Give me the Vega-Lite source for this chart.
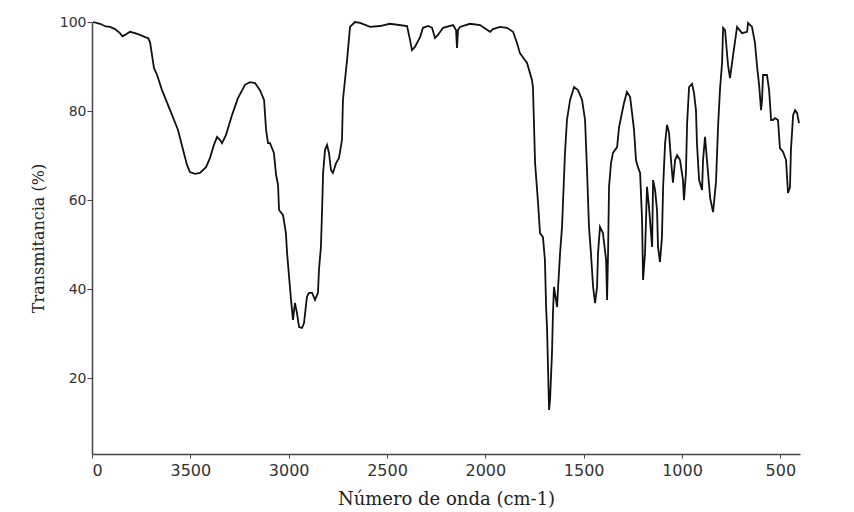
{
  "$schema": "https://vega.github.io/schema/vega-lite/v6.json",
  "width": 708,
  "height": 432,
  "autosize": {"type": "none"},
  "padding": {"left": 92, "top": 22, "right": 54, "bottom": 58},
  "background": "white",
  "config": {"view": {"stroke": null}},
  "data": {"values": [
    {"wn": 3995, "t": 100.0}, {"wn": 3959, "t": 99.6}, {"wn": 3930, "t": 99.0}, {"wn": 3908, "t": 98.9}, {"wn": 3883, "t": 98.4},
    {"wn": 3858, "t": 97.5}, {"wn": 3845, "t": 96.8}, {"wn": 3832, "t": 97.1}, {"wn": 3807, "t": 97.8}, {"wn": 3781, "t": 97.5},
    {"wn": 3756, "t": 97.1}, {"wn": 3730, "t": 96.6}, {"wn": 3715, "t": 96.4}, {"wn": 3705, "t": 95.5},
    {"wn": 3695, "t": 92.6}, {"wn": 3685, "t": 89.7}, {"wn": 3669, "t": 88.1}, {"wn": 3644, "t": 84.7},
    {"wn": 3603, "t": 80.2}, {"wn": 3563, "t": 75.8}, {"wn": 3537, "t": 71.3}, {"wn": 3517, "t": 67.9},
    {"wn": 3502, "t": 66.3}, {"wn": 3476, "t": 65.9}, {"wn": 3451, "t": 66.1}, {"wn": 3420, "t": 67.4},
    {"wn": 3400, "t": 69.5}, {"wn": 3380, "t": 72.4}, {"wn": 3364, "t": 74.2}, {"wn": 3349, "t": 73.5},
    {"wn": 3339, "t": 72.8}, {"wn": 3319, "t": 74.6}, {"wn": 3288, "t": 79.1}, {"wn": 3258, "t": 82.9},
    {"wn": 3222, "t": 85.9}, {"wn": 3197, "t": 86.5}, {"wn": 3171, "t": 86.3}, {"wn": 3146, "t": 84.7},
    {"wn": 3125, "t": 82.5}, {"wn": 3115, "t": 75.8}, {"wn": 3105, "t": 72.8}, {"wn": 3095, "t": 72.8},
    {"wn": 3085, "t": 71.7}, {"wn": 3075, "t": 70.6}, {"wn": 3064, "t": 65.7}, {"wn": 3054, "t": 63.4},
    {"wn": 3049, "t": 57.8}, {"wn": 3029, "t": 56.7}, {"wn": 3014, "t": 52.6}, {"wn": 3008, "t": 48.1},
    {"wn": 2998, "t": 42.8}, {"wn": 2988, "t": 37.6}, {"wn": 2978, "t": 33.1}, {"wn": 2968, "t": 36.9},
    {"wn": 2958, "t": 34.7}, {"wn": 2947, "t": 31.5}, {"wn": 2932, "t": 31.3}, {"wn": 2922, "t": 32.4},
    {"wn": 2907, "t": 38.3}, {"wn": 2897, "t": 39.2}, {"wn": 2881, "t": 39.2}, {"wn": 2866, "t": 37.6},
    {"wn": 2851, "t": 39.2}, {"wn": 2846, "t": 44.3}, {"wn": 2836, "t": 49.5}, {"wn": 2830, "t": 57.8},
    {"wn": 2825, "t": 66.1}, {"wn": 2815, "t": 71.3}, {"wn": 2805, "t": 72.4}, {"wn": 2795, "t": 70.6},
    {"wn": 2785, "t": 66.8}, {"wn": 2775, "t": 66.1}, {"wn": 2759, "t": 68.3}, {"wn": 2744, "t": 69.5},
    {"wn": 2729, "t": 73.5}, {"wn": 2724, "t": 82.5}, {"wn": 2703, "t": 91.5}, {"wn": 2688, "t": 98.9},
    {"wn": 2663, "t": 100.0}, {"wn": 2637, "t": 99.8}, {"wn": 2586, "t": 98.9}, {"wn": 2536, "t": 99.1},
    {"wn": 2485, "t": 99.6}, {"wn": 2398, "t": 99.1}, {"wn": 2383, "t": 96.0}, {"wn": 2373, "t": 93.7},
    {"wn": 2358, "t": 94.4}, {"wn": 2332, "t": 96.6}, {"wn": 2317, "t": 98.7}, {"wn": 2291, "t": 99.1},
    {"wn": 2271, "t": 98.7}, {"wn": 2256, "t": 96.4}, {"wn": 2241, "t": 97.1}, {"wn": 2215, "t": 98.7},
    {"wn": 2164, "t": 99.3}, {"wn": 2149, "t": 98.2}, {"wn": 2144, "t": 94.2}, {"wn": 2139, "t": 98.2},
    {"wn": 2129, "t": 98.9}, {"wn": 2078, "t": 99.6}, {"wn": 2027, "t": 99.3}, {"wn": 1976, "t": 97.8},
    {"wn": 1961, "t": 98.4}, {"wn": 1925, "t": 98.9}, {"wn": 1890, "t": 98.7}, {"wn": 1859, "t": 97.8},
    {"wn": 1839, "t": 95.3}, {"wn": 1824, "t": 93.0}, {"wn": 1788, "t": 90.8}, {"wn": 1763, "t": 87.0},
    {"wn": 1758, "t": 85.4}, {"wn": 1747, "t": 68.3}, {"wn": 1732, "t": 59.4}, {"wn": 1722, "t": 52.6},
    {"wn": 1707, "t": 51.7}, {"wn": 1697, "t": 46.6}, {"wn": 1691, "t": 36.0}, {"wn": 1686, "t": 30.9},
    {"wn": 1681, "t": 21.9}, {"wn": 1676, "t": 12.9}, {"wn": 1671, "t": 15.1}, {"wn": 1661, "t": 25.7},
    {"wn": 1656, "t": 34.7}, {"wn": 1651, "t": 40.5}, {"wn": 1635, "t": 36.0}, {"wn": 1630, "t": 40.5},
    {"wn": 1620, "t": 48.1}, {"wn": 1610, "t": 54.0}, {"wn": 1595, "t": 70.6}, {"wn": 1585, "t": 78.0},
    {"wn": 1569, "t": 82.5}, {"wn": 1549, "t": 85.4}, {"wn": 1529, "t": 84.7}, {"wn": 1508, "t": 82.5},
    {"wn": 1493, "t": 78.0}, {"wn": 1483, "t": 66.8}, {"wn": 1473, "t": 54.0}, {"wn": 1463, "t": 48.1},
    {"wn": 1452, "t": 40.5}, {"wn": 1442, "t": 36.9}, {"wn": 1432, "t": 40.5}, {"wn": 1427, "t": 48.1},
    {"wn": 1417, "t": 54.0}, {"wn": 1402, "t": 52.6}, {"wn": 1386, "t": 46.6}, {"wn": 1381, "t": 37.6},
    {"wn": 1376, "t": 48.1}, {"wn": 1371, "t": 63.0}, {"wn": 1361, "t": 68.3}, {"wn": 1351, "t": 70.6},
    {"wn": 1330, "t": 71.9}, {"wn": 1320, "t": 76.4}, {"wn": 1295, "t": 81.8}, {"wn": 1280, "t": 84.3},
    {"wn": 1264, "t": 83.2}, {"wn": 1254, "t": 79.6}, {"wn": 1244, "t": 75.8}, {"wn": 1234, "t": 69.0},
    {"wn": 1224, "t": 67.4}, {"wn": 1213, "t": 66.1}, {"wn": 1203, "t": 55.5}, {"wn": 1198, "t": 42.1},
    {"wn": 1188, "t": 48.1}, {"wn": 1178, "t": 63.0}, {"wn": 1168, "t": 58.5}, {"wn": 1152, "t": 49.5},
    {"wn": 1147, "t": 64.5}, {"wn": 1137, "t": 62.3}, {"wn": 1127, "t": 57.8}, {"wn": 1122, "t": 49.5},
    {"wn": 1112, "t": 46.1}, {"wn": 1102, "t": 51.7}, {"wn": 1096, "t": 63.0}, {"wn": 1086, "t": 72.8},
    {"wn": 1076, "t": 76.9}, {"wn": 1066, "t": 75.1}, {"wn": 1056, "t": 69.0}, {"wn": 1046, "t": 63.9},
    {"wn": 1035, "t": 69.0}, {"wn": 1025, "t": 70.1}, {"wn": 1010, "t": 69.0}, {"wn": 995, "t": 64.5},
    {"wn": 990, "t": 60.0}, {"wn": 980, "t": 66.1}, {"wn": 974, "t": 77.3}, {"wn": 964, "t": 85.4},
    {"wn": 949, "t": 86.1}, {"wn": 939, "t": 84.1}, {"wn": 929, "t": 80.2}, {"wn": 924, "t": 72.8},
    {"wn": 913, "t": 64.5}, {"wn": 898, "t": 62.3}, {"wn": 893, "t": 69.0}, {"wn": 883, "t": 74.2},
    {"wn": 873, "t": 69.0}, {"wn": 857, "t": 60.5}, {"wn": 842, "t": 57.3}, {"wn": 827, "t": 64.1},
    {"wn": 817, "t": 76.2}, {"wn": 807, "t": 84.7}, {"wn": 796, "t": 91.0}, {"wn": 791, "t": 98.7},
    {"wn": 781, "t": 98.2}, {"wn": 776, "t": 95.5}, {"wn": 766, "t": 90.3}, {"wn": 756, "t": 87.4},
    {"wn": 740, "t": 92.6}, {"wn": 720, "t": 98.9}, {"wn": 695, "t": 97.5}, {"wn": 669, "t": 97.8},
    {"wn": 664, "t": 99.8}, {"wn": 644, "t": 98.9}, {"wn": 629, "t": 95.3}, {"wn": 618, "t": 89.9},
    {"wn": 608, "t": 85.9}, {"wn": 598, "t": 80.2}, {"wn": 593, "t": 82.5}, {"wn": 588, "t": 88.1},
    {"wn": 568, "t": 88.1}, {"wn": 557, "t": 84.7}, {"wn": 547, "t": 78.0}, {"wn": 537, "t": 78.0},
    {"wn": 527, "t": 78.4}, {"wn": 512, "t": 78.0}, {"wn": 502, "t": 71.7}, {"wn": 486, "t": 70.8},
    {"wn": 471, "t": 69.0}, {"wn": 461, "t": 61.6}, {"wn": 451, "t": 62.9}, {"wn": 446, "t": 71.3},
    {"wn": 435, "t": 79.1}, {"wn": 425, "t": 80.2}, {"wn": 415, "t": 79.6}, {"wn": 405, "t": 77.3}
  ]},
  "mark": {"type": "line", "color": "#111111", "strokeWidth": 1.8, "strokeJoin": "miter"},
  "encoding": {
    "x": {
      "field": "wn",
      "type": "quantitative",
      "scale": {"domain": [400, 4000], "reverse": true, "nice": false, "zero": false},
      "axis": {
        "values": [4000, 3500, 3000, 2500, 2000, 1500, 1000, 500],
        "labelExpr": "datum.value == 4000 ? '0' : format(datum.value, 'd')",
        "title": "Número de onda (cm-1)",
        "grid": false,
        "domainColor": "#444444",
        "domainWidth": 1.5,
        "tickColor": "#444444",
        "tickSize": 4,
        "labelFont": "DejaVu Sans",
        "labelFontSize": 16,
        "labelColor": "#333333",
        "labelPadding": 4,
        "titleFont": "DejaVu Serif",
        "titleFontSize": 18,
        "titleFontWeight": "normal",
        "titleColor": "#222222",
        "titlePadding": 12
      }
    },
    "y": {
      "field": "t",
      "type": "quantitative",
      "scale": {"domain": [3, 100], "nice": false, "zero": false},
      "axis": {
        "values": [20, 40, 60, 80, 100],
        "title": "Transmitancia (%)",
        "grid": false,
        "domainColor": "#444444",
        "domainWidth": 1.5,
        "tickColor": "#444444",
        "tickSize": 5,
        "labelFont": "DejaVu Sans",
        "labelFontSize": 14,
        "labelColor": "#333333",
        "labelPadding": 1,
        "titleFont": "DejaVu Serif",
        "titleFontSize": 16,
        "titleFontWeight": "normal",
        "titleColor": "#222222",
        "titlePadding": 13
      }
    }
  }
}
